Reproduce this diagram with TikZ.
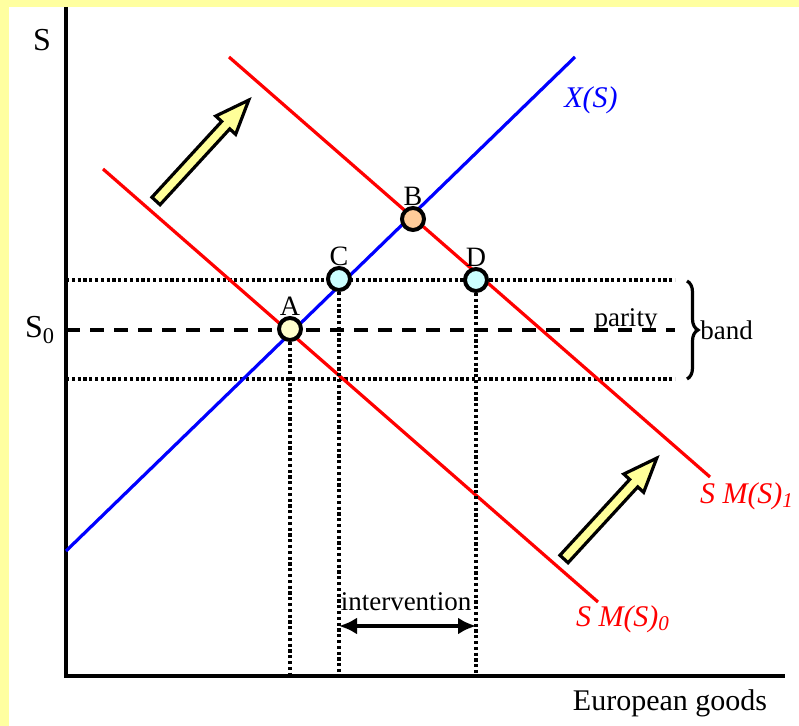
\documentclass[tikz,border=0pt]{standalone}
\usepackage{fontspec}
\setmainfont{Liberation Serif}
\usetikzlibrary{arrows.meta,decorations.pathreplacing}
\definecolor{frameyellow}{RGB}{255,255,160}
\definecolor{arrowyellow}{RGB}{255,255,153}
\definecolor{ptA}{RGB}{255,255,204}
\definecolor{ptB}{RGB}{255,204,153}
\definecolor{ptC}{RGB}{204,255,255}
\definecolor{smred}{RGB}{255,0,0}
\definecolor{xblue}{RGB}{0,0,255}

\begin{document}
\begin{tikzpicture}[x=0.5pt,y=-0.5pt,
  pt/.style={draw,circle,line width=2pt,minimum size=11pt,inner sep=0pt},
  lbl/.style={font=\fontsize{14}{16}\selectfont,inner sep=0pt},
  txt/.style={font=\fontsize{13.5}{16}\selectfont,inner sep=0pt},
  dots/.style={line width=2pt,dash pattern=on 1.6pt off 1.3pt},
  fatarrow/.style={draw,line width=1.6pt,fill=arrowyellow,line join=miter}]

\useasboundingbox (0,0) rectangle (799,726);
\fill[frameyellow] (0,0) rectangle (799,726);
\fill[white] (9,7) rectangle (799,726);

% axes
\coordinate (o) at (66,676);
\coordinate (ytop) at (66,7);
\coordinate (xend) at (785,676);
\draw[line width=2pt] (ytop) -- (o) -- (xend);
\node[txt,font=\fontsize{16}{18}\selectfont] (slab) at (42,40) {S};
\node[txt,font=\fontsize{16}{18}\selectfont] (s0lab) at (40,330) {S\textsubscript{0}};
\node[txt,font=\fontsize{15}{17}\selectfont] (xlab) at (670,703) {European goods};

% band and parity
\draw[dots] (66,280) -- (675,280);
\draw[dots] (66,379) -- (675,379);
\draw[line width=1.8pt,dash pattern=on 7pt off 5pt] (66,330) -- (675,330);
\node[txt] (parity) at (626,320) {parity};
\draw[line width=1.6pt,decorate,decoration={brace,amplitude=5.5pt}] (687,281) -- (687,379);
\node[txt,anchor=west] (band) at (700,330) {band};

% curves
\draw[xblue,line width=1.6pt] (66,551) -- (575,57);
\node[txt,xblue,font=\fontsize{15}{17}\selectfont\itshape] (xs) at (591,100) {X(S)};
\draw[smred,line width=1.6pt] (103,169) -- (598,602);
\node[txt,smred,font=\fontsize{15}{17}\selectfont\itshape] (sm0) at (623,619) {S M(S)\textsubscript{0}};
\draw[smred,line width=1.6pt] (229,57) -- (710,477);
\node[txt,smred,font=\fontsize{15}{17}\selectfont\itshape] (sm1) at (747,496) {S M(S)\textsubscript{1}};

% points
\node[pt,fill=ptA,label={[lbl]above:A}] (A) at (290,329) {};
\node[pt,fill=ptB,label={[lbl]above:B}] (B) at (413,219) {};
\node[pt,fill=ptC,label={[lbl]above:C}] (C) at (339,279) {};
\node[pt,fill=ptC,label={[lbl]above:D}] (D) at (476,280) {};

\draw[dots] (A) -- (A |- o);
\draw[dots] (C) -- (C |- o);
\draw[dots] (D) -- (D |- o);

% intervention
\coordinate (iv1) at (339,626);
\coordinate (iv2) at (476,626);
\draw[line width=2.2pt,{Latex[length=9pt,width=8.5pt]}-{Latex[length=9pt,width=8.5pt]}] (iv1) -- (iv2);
\node[txt] (iv) at (406,602) {intervention};

% shift arrows
\begin{scope}[shift={(156,201)},rotate=47.4]
\draw[fatarrow] (0,-5.5) -- (103,-5.5) -- (103,-13.5) -- (137,0) -- (103,13.5) -- (103,5.5) -- (0,5.5) -- cycle;
\end{scope}
\begin{scope}[shift={(564,559)},rotate=47.4]
\draw[fatarrow] (0,-5.5) -- (103,-5.5) -- (103,-13.5) -- (137,0) -- (103,13.5) -- (103,5.5) -- (0,5.5) -- cycle;
\end{scope}

\end{tikzpicture}
\end{document}
